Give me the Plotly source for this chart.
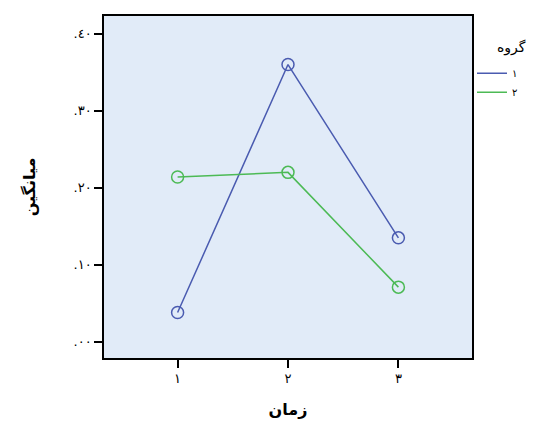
import plotly.graph_objects as go

times = [1, 2, 3]
time_labels = ["١", "٢", "٣"]
group1 = [0.038, 0.360, 0.135]
group2 = [0.214, 0.220, 0.071]
group_names = ["١", "٢"]
legend_title = "گروه"
y_ticks = [0.0, 0.1, 0.2, 0.3, 0.4]
y_tick_labels = [".٠٠", ".١٠", ".٢٠", ".٣٠", ".٤٠"]

blue = "#4a5bb0"
green = "#4cba55"

fig = go.Figure()
for vals, name, col in [(group1, group_names[0], blue), (group2, group_names[1], green)]:
    fig.add_trace(go.Scatter(
        x=times, y=vals, name=name, mode="lines",
        line=dict(color=col, width=1.5),
    ))
    fig.add_trace(go.Scatter(
        x=times, y=vals, name=name, mode="markers", showlegend=False,
        marker=dict(symbol="circle-open", size=12, color=col, line=dict(width=1.5, color=col)),
    ))

fig.add_annotation(
    text=legend_title, xref="paper", yref="paper", x=1.106, y=0.909,
    xanchor="center", yanchor="middle", showarrow=False, font=dict(size=14),
)

fig.update_layout(
    width=537, height=438,
    margin=dict(l=96, r=73, t=8, b=88, autoexpand=False),
    paper_bgcolor="white",
    plot_bgcolor="#e1ebf8",
    font=dict(family="DejaVu Sans", color="black", size=13),
    showlegend=True,
    legend=dict(
        x=1.0, xanchor="left", y=0.875, yanchor="top",
        bgcolor="rgba(0,0,0,0)", font=dict(size=10),
        itemwidth=30, tracegroupgap=0,
    ),
    xaxis=dict(
        range=[1/3, 3 + 2/3], tickvals=times, ticktext=time_labels,
        ticks="outside", ticklen=8, tickwidth=2, tickcolor="black",
        showgrid=False, zeroline=False,
        showline=True, linecolor="black", linewidth=1.5, mirror=True,
        title=dict(text="<b>زمان</b>", font=dict(size=16), standoff=18),
    ),
    yaxis=dict(
        range=[-0.021, 0.423], tickvals=y_ticks, ticktext=y_tick_labels,
        ticks="outside", ticklen=8, tickwidth=2, tickcolor="black",
        showgrid=False, zeroline=False,
        showline=True, linecolor="black", linewidth=1.5, mirror=True,
        title=dict(text="<b>میانگین</b>", font=dict(size=16), standoff=34),
    ),
)

fig.write_html("out.html")
